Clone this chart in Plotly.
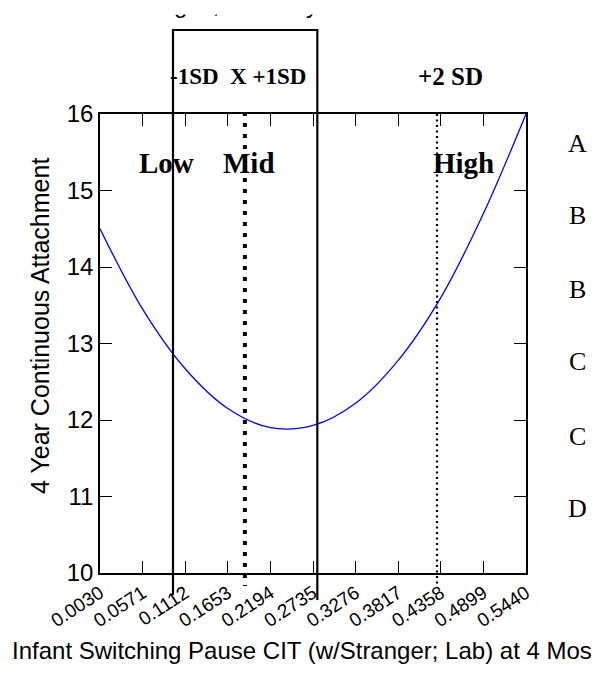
import plotly.graph_objects as go

# Predicted attachment across the range of the moderator
x_vals = [0.0030, 0.0571, 0.1112, 0.1653, 0.2194, 0.2735, 0.3276, 0.3817, 0.4358, 0.4899, 0.5440]
y_vals = [14.50, 13.45, 12.67, 12.15, 11.90, 11.93, 12.22, 12.78, 13.60, 14.70, 16.00]

tick_vals = [0.0030, 0.0571, 0.1112, 0.1653, 0.2194, 0.2735, 0.3276, 0.3817, 0.4358, 0.4899, 0.5440]
tick_text = ["0.0030", "0.0571", "0.1112", "0.1653", "0.2194", "0.2735",
             "0.3276", "0.3817", "0.4358", "0.4899", "0.5440"]

# Reference values on the moderator
sd_minus1 = 0.0957
mean_x = 0.187
sd_plus1 = 0.279
sd_plus2 = 0.431

group_names = ["Low", "Mid", "High"]
group_x = [0.088, 0.192, 0.464]

# Letter grades down the right side, at their y levels
grade_letters = ["A", "B", "B", "C", "C", "D"]
grade_y = [15.62, 14.67, 13.71, 12.76, 11.79, 10.84]

W, H = 603, 675
ML, MR, MT, MB = 100, 77, 114, 102
plot_h = H - MT - MB


def py(pixel_y):
    """Convert a page pixel row to paper y."""
    return (H - MB - pixel_y) / plot_h


SANS = "Liberation Sans, Arial, sans-serif"
SERIF = "Liberation Serif, Times New Roman, serif"

fig = go.Figure()
fig.add_trace(go.Scatter(
    x=x_vals, y=y_vals, mode="lines",
    line=dict(color="#0000ff", width=1.3, shape="spline"),
    showlegend=False, hoverinfo="skip",
))

shapes = [
    # bracket around the -1 SD .. +1 SD band
    dict(type="path", xref="x", yref="paper",
         path=f"M {sd_minus1},{py(595)} L {sd_minus1},{py(30)} "
              f"L {sd_plus1},{py(30)} L {sd_plus1},{py(600)}",
         line=dict(color="black", width=2.2)),
    # mean
    dict(type="line", xref="x", yref="paper",
         x0=mean_x, x1=mean_x, y0=py(112), y1=py(586),
         line=dict(color="black", width=4, dash="4px,7px")),
    # +2 SD
    dict(type="line", xref="x", yref="paper",
         x0=sd_plus2, x1=sd_plus2, y0=py(114), y1=py(587),
         line=dict(color="black", width=2.2, dash="2px,3.5px")),
]

annotations = []
for name, gx in zip(group_names, group_x):
    annotations.append(dict(
        x=gx, y=py(163), xref="x", yref="paper", text=f"<b>{name}</b>",
        showarrow=False, font=dict(family=SERIF, size=29, color="black"),
        xanchor="center", yanchor="middle"))

annotations.append(dict(
    x=0.178, y=py(76), xref="x", yref="paper", text="<b>-1SD  X +1SD</b>",
    showarrow=False, font=dict(family=SERIF, size=23, color="black"),
    xanchor="center", yanchor="middle"))
annotations.append(dict(
    x=0.4475, y=py(76), xref="x", yref="paper", text="<b>+2 SD</b>",
    showarrow=False, font=dict(family=SERIF, size=25, color="black"),
    xanchor="center", yanchor="middle"))

for letter, gy in zip(grade_letters, grade_y):
    annotations.append(dict(
        x=(577 - ML) / (W - ML - MR), y=gy, xref="paper", yref="y", text=letter,
        showarrow=False, font=dict(family=SERIF, size=26, color="black"),
        xanchor="center", yanchor="middle"))

# axis titles
annotations.append(dict(
    x=(40 - ML) / (W - ML - MR), y=py(326), xref="paper", yref="paper",
    text="4 Year Continuous Attachment", textangle=-90, showarrow=False,
    font=dict(family=SANS, size=25, color="black"),
    xanchor="center", yanchor="middle"))
annotations.append(dict(
    x=(302 - ML) / (W - ML - MR), y=py(650), xref="paper", yref="paper",
    text="Infant Switching Pause CIT (w/Stranger; Lab) at 4 Mos", showarrow=False,
    font=dict(family=SANS, size=24, color="black"),
    xanchor="center", yanchor="middle"))

# chart heading, running off the top edge
annotations.append(dict(
    x=(128 - ML) / (W - ML - MR), y=py(20), xref="paper", yref="paper",
    text="Ranges, Mean by SD", showarrow=False,
    font=dict(family=SANS, size=24, color="black"),
    xanchor="left", yanchor="bottom"))
annotations.append(dict(
    x=(330 - ML) / (W - ML - MR), y=py(-2), xref="paper", yref="paper",
    text=" ", showarrow=False, width=420, height=15, bgcolor="white",
    borderpad=0, xanchor="center", yanchor="top"))

axis_common = dict(
    showline=True, linecolor="black", linewidth=1.5, mirror="ticks",
    ticks="inside", ticklen=12, tickwidth=1.3, tickcolor="black",
    showgrid=False, zeroline=False,
)

fig.update_layout(
    width=W, height=H,
    margin=dict(l=ML, r=MR, t=MT, b=MB, autoexpand=False),
    paper_bgcolor="white", plot_bgcolor="white",
    shapes=shapes, annotations=annotations,
    xaxis=dict(range=[0.0030, 0.5440], tickmode="array", tickvals=tick_vals,
               ticktext=tick_text, tickangle=-33,
               tickfont=dict(family=SANS, size=19, color="black"), **axis_common),
    yaxis=dict(range=[10, 16], dtick=1, tick0=10,
               tickfont=dict(family=SANS, size=24, color="black"), **axis_common),
)

fig.write_html("out.html")
